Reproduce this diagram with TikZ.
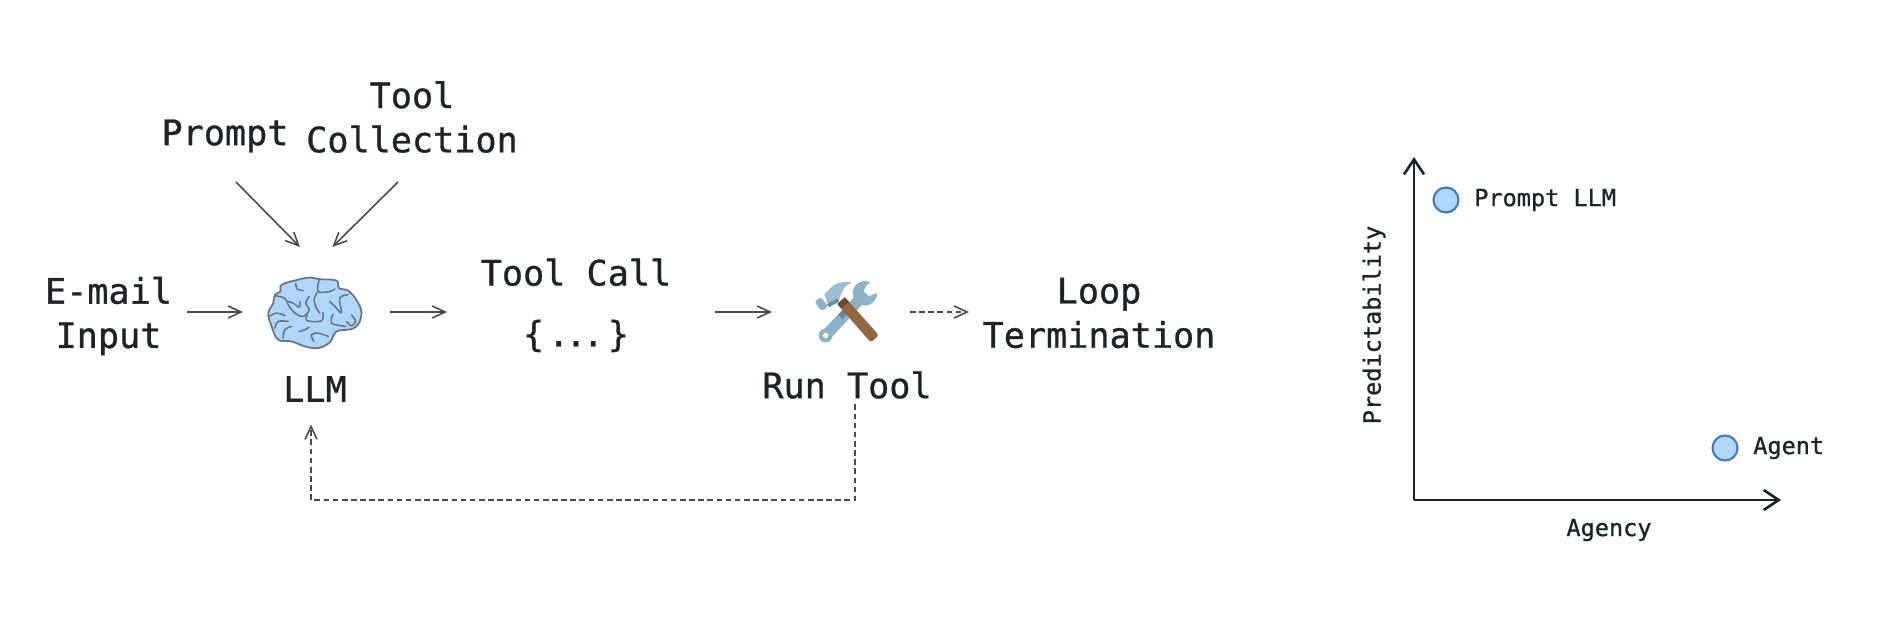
\documentclass[tikz,border=0pt]{standalone}
\usepackage{fontspec}
\usetikzlibrary{arrows.meta, positioning}
\newfontfamily\monofam[FakeBold=0.9]{DejaVu Sans Mono}
\definecolor{inkC}{HTML}{1F2226}
\definecolor{lineC}{HTML}{4A4A4A}
\definecolor{brainC}{HTML}{AFD7FB}
\definecolor{brainL}{HTML}{6A7580}
\definecolor{dotC}{HTML}{B1D6FA}
\definecolor{dotL}{HTML}{3E78C6}
\definecolor{steelC}{HTML}{8DB3C6}
\definecolor{steelD}{HTML}{5E8CA0}
\definecolor{woodC}{HTML}{94663F}
\definecolor{woodD}{HTML}{6F4B2E}
\tikzset{
  bigT/.style={font=\monofam\fontsize{10}{12.6}\selectfont, text=inkC,
               align=center, inner sep=0pt},
  smallT/.style={font=\monofam\fontsize{6.7}{8}\selectfont, text=inkC,
                 inner sep=0pt},
  blank/.style={inner sep=0pt, outer sep=0pt},
  flow/.style={draw=lineC, line width=0.45pt,
               -{Straight Barb[length=1.3mm,width=1.2mm]}},
  flowD/.style={flow, dash pattern=on 1.6pt off 1pt},
  axis/.style={draw=inkC, line width=0.75pt,
               -{Straight Barb[length=1.5mm,width=2mm]}},
  dotV/.style={circle, draw=dotL, fill=dotC, line width=0.6pt,
               inner sep=0pt, minimum size=0.25cm},
  fold/.style={draw=brainL, line width=0.45pt, line cap=round},
}
\begin{document}
\begin{tikzpicture}
    \useasboundingbox (0,0) rectangle (18.79,6.32);
    %% left flow
    \node[bigT] (email) at (1.085,3.16) {E-mail\\Input};
    \node[bigT] (prompt) at (2.25,4.96) {Prompt};
    \node[bigT] (toolColl) at (4.12,5.15) {Tool\\Collection};
    \node[blank, minimum width=1.44cm, minimum height=1.30cm] (brain) at (3.15,3.20) {};
    \node[bigT] (llm) at (3.15,2.43) {LLM};
    \node[bigT] (toolCall) at (5.76,3.266) {Tool Call\\[0.166cm]\{\kern.04cm.\kern-.04cm.\kern-.04cm.\kern.04cm\}};
    \node[blank, minimum width=1.38cm, minimum height=1cm] (hammer) at (8.41,3.20) {};
    \node[bigT] (runTool) at (8.47,2.47) {Run Tool};
    \node[bigT] (loopEnd) at (10.99,3.19) {Loop\\Termination};
    %% brain
    \begin{scope}[shift={(2.20,4.12)}, x=0.00333cm, y=-0.00333cm]
      \draw[fill=brainC, draw=brainL, line width=0.5pt] plot[smooth cycle, tension=0.6] coordinates
        {(232,180) (270,173) (300,178) (350,182) (358,205) (385,212) (410,240) (425,275)
         (418,310) (395,328) (350,335) (330,368) (295,385) (255,380) (215,365) (175,360)
         (155,320) (145,280) (160,250) (165,225) (182,215) (185,195)};
      \foreach \pts in {
        {(228,190) (232,207) (250,212)},
        {(298,180) (295,215) (330,215) (345,207)},
        {(292,218) (283,240) (290,265) (300,280)},
        {(268,230) (258,250) (268,270) (250,290) (225,280) (205,255) (195,235) (165,228)},
        {(205,245) (220,250) (238,262) (240,245)},
        {(262,285) (262,303) (305,303) (310,278)},
        {(330,245) (350,265) (365,278) (360,235) (385,225)},
        {(340,283) (335,310) (365,318) (378,320)},
        {(395,285) (408,305) (395,318) (380,305)},
        {(148,290) (170,280) (195,287)},
        {(165,325) (175,305) (205,305)},
        {(190,355) (195,330) (215,320)},
        {(238,335) (255,330) (268,322)},
        {(282,365) (275,345) (295,340) (325,350)}}
        \draw[fold] plot[smooth, tension=0.6] coordinates \pts;
    \end{scope}
    %% hammer and wrench
    \begin{scope}[shift={(8.05,3.62)}, x=0.00333cm, y=-0.00333cm]
      \draw[steelC, line width=0.11cm] (62,197) -- (165,88);
      \fill[steelC] (62,197) circle[radius=21];
      \fill[steelC] (180,70) circle[radius=37];
      \fill[white] (206,28) -- (184,48) -- (176,64) -- (192,78) -- (226,66) -- (232,28) -- cycle;
      \fill[white] (62,197) circle[radius=8];
      \fill[steelD] (100,135) -- (128,105) -- (140,118) -- (112,148) -- cycle;
      \fill[steelC, rounded corners=0.8pt] (28,95) -- (48,81) -- (70,110) -- (50,124) -- cycle;
      \fill[steelC!85!white] (58,72) -- (88,44) .. controls (105,36) and (125,34) .. (141,37)
        .. controls (120,45) and (108,65) .. (102,95) -- (72,112) -- cycle;
      \fill[steelD] (72,112) -- (102,95) -- (97,85) -- (66,103) -- cycle;
      \fill[woodC, rounded corners=0.8pt] (97,102) -- (120,82) -- (222,196) -- (198,218) -- cycle;
      \fill[woodD] (97,102) -- (120,82) -- (132,96) -- (109,116) -- cycle;
    \end{scope}
    %% connectors
    \coordinate (promptOut) at (2.36,4.50);
    \coordinate (toolOut) at (3.98,4.50);
    \coordinate (loopBR) at (8.55,1.32);
    \coordinate (loopBL) at (3.11,1.32);
    \draw[flow, shorten <=0.14cm] (email.east |- brain.west) -- (brain.west);
    \draw[flow] (promptOut) -- (brain.103);
    \draw[flow] (toolOut) -- (brain.75);
    \draw[flow, shorten <=0.03cm, shorten >=0.33cm] (brain.east) -- (toolCall.west |- brain.east);
    \draw[flow, shorten <=0.43cm] (toolCall.east |- hammer.west) -- (hammer.west);
    \draw[flowD, shorten >=0.13cm] (hammer.east) -- (loopEnd.west |- hammer.east);
    \draw[flowD, shorten <=0.05cm, shorten >=0.22cm] (runTool.south -| loopBR) -- (loopBR) -- (loopBL) -- (llm.south -| loopBL);
    %% right chart
    \coordinate (orig) at (14.14,1.32);
    \coordinate (topY) at (14.14,4.75);
    \coordinate (endX) at (17.81,1.32);
    \draw[axis] (orig) -- (topY);
    \draw[axis] (orig) -- (endX);
    \node[dotV] (dotP) at (14.46,4.32) {};
    \node[dotV] (dotA) at (17.25,1.84) {};
    \node[smallT, right=0.14cm of dotP] (labP) {Prompt LLM};
    \node[smallT, right=0.14cm of dotA] (labA) {Agent};
    \node[smallT] (labX) at (16.09,1.02) {Agency};
    \node[smallT, rotate=90] (labY) at (13.74,3.07) {Predictability};
\end{tikzpicture}
\end{document}
